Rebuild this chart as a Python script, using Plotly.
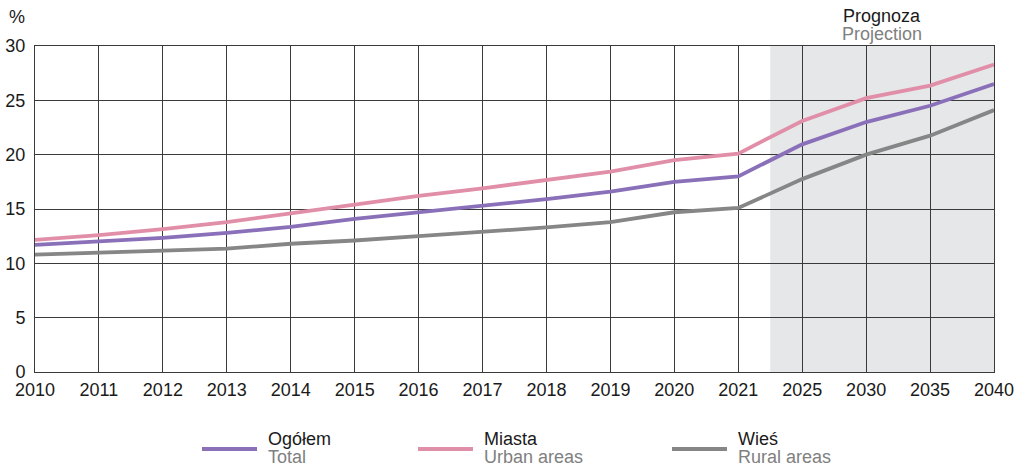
import plotly.graph_objects as go

years = ["2010", "2011", "2012", "2013", "2014", "2015", "2016", "2017", "2018",
         "2019", "2020", "2021", "2025", "2030", "2035", "2040"]
total = [11.7, 12.0, 12.35, 12.8, 13.35, 14.1, 14.7, 15.3, 15.9, 16.6, 17.5, 18.0,
         20.95, 23.0, 24.5, 26.5]
urban = [12.15, 12.6, 13.15, 13.8, 14.6, 15.4, 16.2, 16.9, 17.7, 18.45, 19.5, 20.1,
         23.1, 25.2, 26.35, 28.3]
rural = [10.8, 11.0, 11.15, 11.35, 11.8, 12.1, 12.5, 12.9, 13.3, 13.8, 14.7, 15.1,
         17.75, 20.0, 21.75, 24.1]

series = [
    ("Ogółem", "Total", total, "#8a70b9"),
    ("Miasta", "Urban areas", urban, "#e18fa9"),
    ("Wieś", "Rural areas", rural, "#868686"),
]

FONT = "Liberation Sans, Arial, sans-serif"
GRID = "#3a3a3a"
FS = 18

fig = go.Figure()
for pl, en, vals, col in series:
    fig.add_trace(go.Scatter(x=years, y=vals, mode="lines", name=f"{pl} / {en}",
                             line=dict(color=col, width=3.8), showlegend=False))

# projection shading (between 2021 and 2025 up to 2040)
fig.add_shape(type="rect", xref="x", yref="paper", x0=11.5, x1=15, y0=0, y1=1,
              fillcolor="#e6e7e9", line=dict(width=0), layer="below")

xc = (11.5 / 15 + 1) / 2
fig.add_annotation(xref="paper", yref="paper", x=xc, y=1.0, yshift=18,
                   text="Prognoza", showarrow=False, xanchor="center", yanchor="bottom",
                   font=dict(family=FONT, size=FS, color="#1a1a1a"))
fig.add_annotation(xref="paper", yref="paper", x=xc, y=1.0, yshift=0,
                   text="Projection", showarrow=False, xanchor="center", yanchor="bottom",
                   font=dict(family=FONT, size=FS, color="#808080"))
fig.add_annotation(xref="paper", yref="paper", x=0, xshift=-28, y=1.0, yshift=17,
                   text="%", showarrow=False, xanchor="left", yanchor="bottom",
                   font=dict(family=FONT, size=FS, color="#1a1a1a"))

# manual legend
W = 1026
L, R, T, B = 35, 32, 46, 95
pw = W - L - R
ph = 467 - T - B


def py(pix):
    return (467 - B - pix) / ph


leg_x = [202, 418, 672]
for (pl, en, vals, col), lx in zip(series, leg_x):
    x0 = (lx - L) / pw
    x1 = (lx + 55 - L) / pw
    fig.add_shape(type="line", xref="paper", yref="paper", x0=x0, x1=x1,
                  y0=py(449), y1=py(449), line=dict(color=col, width=4))
    fig.add_annotation(xref="paper", yref="paper", x=(lx + 64 - L) / pw, y=py(439),
                       text=pl, showarrow=False, xanchor="left", yanchor="middle",
                       font=dict(family=FONT, size=FS, color="#1a1a1a"))
    fig.add_annotation(xref="paper", yref="paper", x=(lx + 64 - L) / pw, y=py(457),
                       text=en, showarrow=False, xanchor="left", yanchor="middle",
                       font=dict(family=FONT, size=FS, color="#808080"))

fig.update_layout(
    width=1026, height=467,
    margin=dict(l=L, r=R, t=T, b=B, autoexpand=False),
    paper_bgcolor="white", plot_bgcolor="white",
    font=dict(family=FONT, size=FS, color="#1a1a1a"),
    xaxis=dict(type="category", range=[0, 15], showgrid=True, gridcolor=GRID, gridwidth=1,
               showline=True, mirror=True, linecolor=GRID, linewidth=1, ticks="",
               tickfont=dict(size=FS), zeroline=False, ticklabelstandoff=1,
               automargin=False),
    yaxis=dict(range=[0, 30], dtick=5, showgrid=True, gridcolor=GRID, gridwidth=1,
               showline=True, mirror=True, linecolor=GRID, linewidth=1, ticks="",
               tickfont=dict(size=FS), zeroline=False, ticklabelstandoff=5,
               automargin=False),
)

fig.write_html("out.html", config={"displayModeBar": False},
               post_script="document.body.style.margin='0';document.body.style.overflow='hidden';")
